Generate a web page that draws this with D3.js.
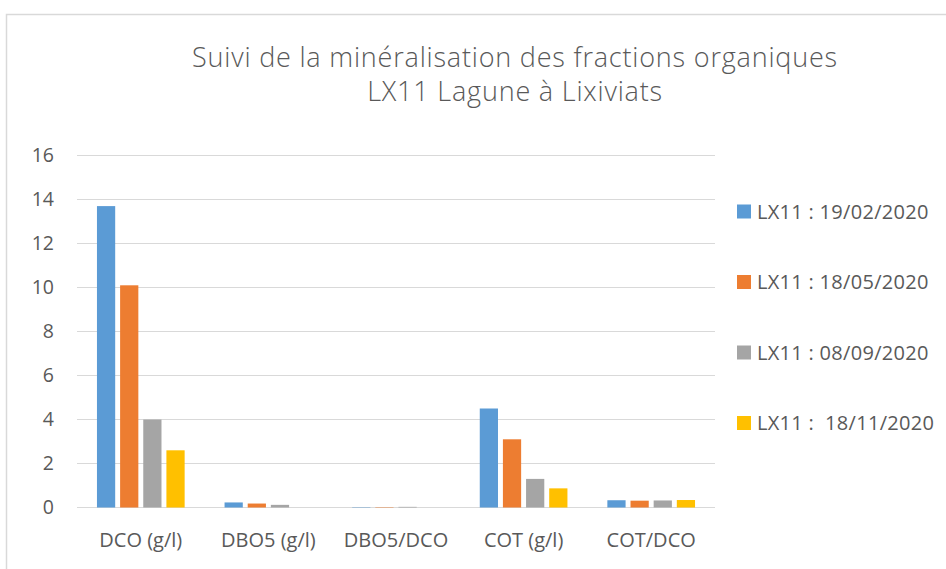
<!DOCTYPE html>
<html>
<head>
<meta charset="utf-8">
<script src="https://cdn.jsdelivr.net/npm/d3@7"></script>
<style>
  body { margin: 0; background: #fff; }
  text { font-family: "Open Sans", "Liberation Sans", sans-serif; fill: #595959; }
</style>
</head>
<body>
<script>
// DONNEES
//
var categories = ["DCO (g/l)", "DBO5 (g/l)", "DBO5/DCO", "COT (g/l)", "COT/DCO"];
var seriesNames = ["LX11 : 19/02/2020", "LX11 : 18/05/2020", "LX11 : 08/09/2020", "LX11 :  18/11/2020"];
var serie1 = [13.7, 0.23, 0.017, 4.5, 0.33];
var serie2 = [10.1, 0.18, 0.018, 3.1, 0.31];
var serie3 = [4.0, 0.12, 0.03, 1.3, 0.32];
var serie4 = [2.6, 0.0, 0.0, 0.87, 0.34];
var yTicks = [0, 2, 4, 6, 8, 10, 12, 14, 16];
var colors = ["#5b9bd5", "#ed7d31", "#a5a5a5", "#ffc000"];
var titleLines = ["Suivi de la minéralisation des fractions organiques", "LX11 Lagune à Lixiviats"];

var width = 946, height = 569;
var allSeries = [serie1, serie2, serie3, serie4];

var svg = d3.select("body").append("svg")
  .attr("width", width)
  .attr("height", height);

// bordure du graphique
svg.append("path")
  .attr("d", "M6.5,569 L6.5,14.5 L946,14.5")
  .attr("fill", "none")
  .attr("stroke", "#d9d9d9")
  .attr("stroke-width", 1.5);

// TITRE
svg.selectAll(".title").data(titleLines).enter().append("text")
  .attr("class", "title")
  .attr("x", 515)
  .attr("y", function(d, i) { return 67 + i * 34; })
  .attr("text-anchor", "middle")
  .style("font-size", "27px")
  .style("letter-spacing", "0.8px")
  .style("font-weight", 300)
  .text(function(d) { return d; });

var x0 = d3.scaleBand().domain(categories).range([77, 715]);
var y = d3.scaleLinear().domain([0, 16]).range([507.5, 155.5]);

// grille
svg.selectAll(".grid").data(yTicks).enter().append("line")
  .attr("class", "grid")
  .attr("x1", 77).attr("x2", 715)
  .attr("y1", function(d) { return y(d); })
  .attr("y2", function(d) { return y(d); })
  .attr("stroke", "#d9d9d9")
  .attr("stroke-width", 1.2);

// axe Y
svg.selectAll(".ylab").data(yTicks).enter().append("text")
  .attr("class", "ylab")
  .attr("x", 54)
  .attr("y", function(d) { return y(d); })
  .attr("dy", "0.35em")
  .attr("text-anchor", "end")
  .style("font-size", "19.5px")
  .text(function(d) { return d; });

// axe X
svg.selectAll(".xlab").data(categories).enter().append("text")
  .attr("class", "xlab")
  .attr("x", function(d) { return x0(d) + x0.bandwidth() / 2; })
  .attr("y", 547)
  .attr("text-anchor", "middle")
  .style("font-size", "20px")
  .text(function(d) { return d; });

// barres : largeur ~18.3, espace ~4.9 entre séries
var barW = x0.bandwidth() / 7.0;
var gapW = barW * 0.27;
var groupW = 4 * barW + 3 * gapW;

allSeries.forEach(function(serie, s) {
  svg.selectAll(".bar" + s).data(serie).enter().append("rect")
    .attr("class", "bar" + s)
    .attr("x", function(d, i) {
      return x0(categories[i]) + (x0.bandwidth() - groupW) / 2 + s * (barW + gapW);
    })
    .attr("y", function(d) { return y(d); })
    .attr("width", barW)
    .attr("height", function(d) { return y(0) - y(d); })
    .attr("fill", colors[s]);
});

// LEGENDE
var legend = svg.selectAll(".leg").data(seriesNames).enter().append("g")
  .attr("class", "leg")
  .attr("transform", function(d, i) { return "translate(737," + (211.5 + i * 70.5) + ")"; });

legend.append("rect")
  .attr("x", 0).attr("y", -7)
  .attr("width", 14).attr("height", 14)
  .attr("fill", function(d, i) { return colors[i]; });

legend.append("text")
  .attr("x", 20)
  .attr("y", 0)
  .attr("dy", "0.35em")
  .style("font-size", "20px")
  .style("letter-spacing", "0.3px")
  .style("white-space", "pre")
  .text(function(d) { return d; });
</script>
</body>
</html>
